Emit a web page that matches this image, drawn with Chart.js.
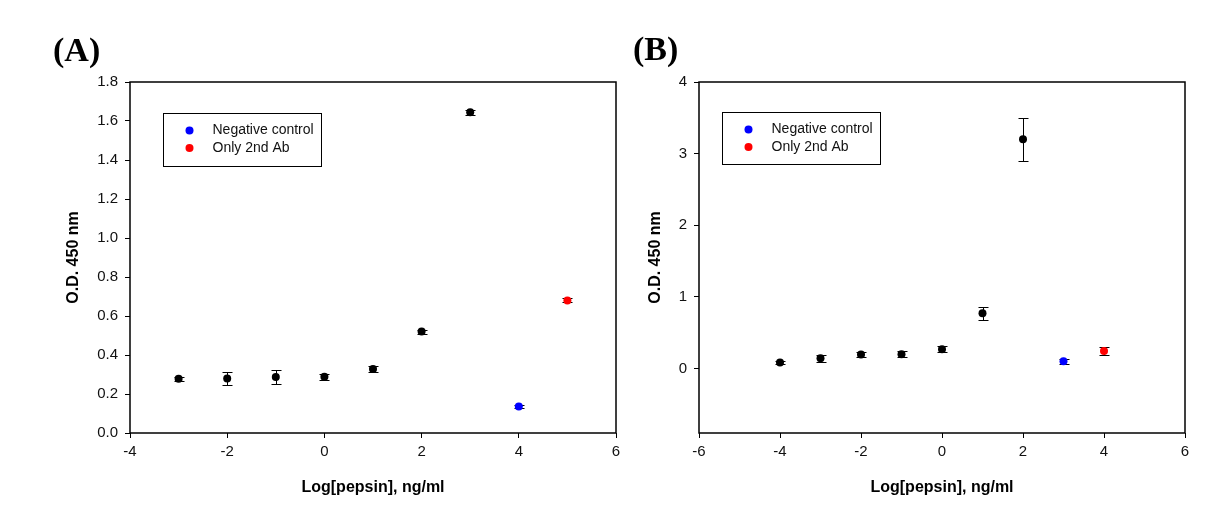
<!DOCTYPE html>
<html lang="en">
<head>
<meta charset="UTF-8">
<title>Pepsin ELISA</title>
<style>
  body { margin: 0; background: #fff; }
  .wrap { position: relative; width: 1232px; height: 529px; overflow: hidden; }
  .panel { position: absolute; top: 0; height: 529px; }
  #panelA { left: 0; width: 640px; }
  #panelB { left: 616px; width: 616px; }
  .tag { position: absolute; font: bold 34px "Liberation Serif", "Times New Roman", serif; line-height: 34px; color: #000; }
</style>
<script src="https://cdn.jsdelivr.net/npm/chart.js"></script>
</head>
<body>
<div class="wrap">
  <div class="panel" id="panelA"><canvas id="chartA"></canvas></div>
  <div class="panel" id="panelB"><canvas id="chartB"></canvas></div>
  <div class="tag" style="left:53px; top:33px;">(A)</div>
  <div class="tag" style="left:633px; top:32px;">(B)</div>
</div>
<script>
// ---- data ----
const xTicksA = [-4, -2, 0, 2, 4, 6];
const yTicksA = [0, 0.2, 0.4, 0.6, 0.8, 1.0, 1.2, 1.4, 1.6, 1.8];
const pepsinA = [-3, -2, -1, 0, 1, 2, 3];
const odA = [0.278, 0.280, 0.287, 0.288, 0.328, 0.520, 1.645];
const errA = [0.010, 0.032, 0.036, 0.015, 0.015, 0.010, 0.012];
const negXA = [4], negA = [0.136], negErrA = [0.010];
const secXA = [5], secA = [0.680], secErrA = [0.010];

const xTicksB = [-6, -4, -2, 0, 2, 4, 6];
const yTicksB = [0, 1, 2, 3, 4];
const pepsinB = [-4, -3, -2, -1, 0, 1, 2];
const odB = [0.085, 0.145, 0.195, 0.200, 0.270, 0.770, 3.200];
const errB = [0.020, 0.050, 0.030, 0.045, 0.045, 0.090, 0.300];
const negXB = [3], negB = [0.100], negErrB = [0.035];
const secXB = [4], secB = [0.245], secErrB = [0.060];

const legendLabels = ['Negative control', 'Only 2nd Ab'];

const pts = (xs, ys) => xs.map((x, i) => ({ x: x, y: ys[i] }));

function series(label, xs, ys, errs, color, inLegend) {
  return {
    label: label,
    data: pts(xs, ys),
    errors: errs,
    inLegend: inLegend,
    backgroundColor: color,
    borderColor: color,
    pointRadius: 4,
    pointBorderWidth: 0,
    showLine: false
  };
}

// error bars with caps
const errorBars = {
  id: 'errorBars',
  beforeDatasetsDraw(chart) {
    const { ctx, scales: { x, y } } = chart;
    ctx.save();
    ctx.lineWidth = 1;
    ctx.strokeStyle = '#000';
    chart.data.datasets.forEach(ds => {
      ds.data.forEach((p, i) => {
        const e = ds.errors[i];
        const px = Math.round(x.getPixelForValue(p.x)) + 0.5;
        const t = Math.round(y.getPixelForValue(p.y + e)) + 0.5;
        const b = Math.round(y.getPixelForValue(p.y - e)) + 0.5;
        ctx.beginPath();
        ctx.moveTo(px, t); ctx.lineTo(px, b);
        ctx.moveTo(px - 5, t); ctx.lineTo(px + 5, t);
        ctx.moveTo(px - 5, b); ctx.lineTo(px + 5, b);
        ctx.stroke();
      });
    });
    ctx.restore();
  }
};

// closed frame round the plot area
const frame = {
  id: 'frame',
  afterDraw(chart) {
    const { ctx, chartArea: a } = chart;
    ctx.save();
    ctx.lineWidth = 1.5;
    ctx.strokeStyle = '#000';
    ctx.strokeRect(a.left, a.top, a.right - a.left, a.bottom - a.top);
    ctx.restore();
  }
};

// boxed legend inside the plot
const boxLegend = {
  id: 'boxLegend',
  afterDraw(chart, args, opts) {
    const { ctx, chartArea } = chart;
    const x0 = Math.round(chartArea.left + opts.dx) + 0.5;
    const y0 = Math.round(chartArea.top + opts.dy) + 0.5;
    ctx.save();
    ctx.fillStyle = '#fff';
    ctx.fillRect(x0, y0, opts.w, opts.h);
    ctx.lineWidth = 1;
    ctx.strokeStyle = '#000';
    ctx.strokeRect(x0, y0, opts.w, opts.h);
    ctx.font = '14px "Liberation Sans", Arial, sans-serif';
    ctx.textBaseline = 'middle';
    chart.data.datasets.filter(d => d.inLegend).forEach((ds, i) => {
      const cy = y0 + 17 + i * 17.5;
      ctx.fillStyle = ds.backgroundColor;
      ctx.beginPath();
      ctx.arc(x0 + 26, cy, 4, 0, Math.PI * 2);
      ctx.fill();
      ctx.fillStyle = '#111';
      ctx.fillText(ds.label, x0 + 49, cy);
    });
    ctx.restore();
  }
};

const tickFont = { family: '"Liberation Sans", Arial, sans-serif', size: 15 };
const titleFont = { family: '"Liberation Sans", Arial, sans-serif', size: 16, weight: 'bold' };

function makeChart(id, cfg) {
  const el = document.getElementById(id);
  el.width = cfg.w; el.height = 529;
  return new Chart(el, {
    type: 'scatter',
    data: { datasets: cfg.datasets },
    plugins: [errorBars, frame, boxLegend],
    options: {
      responsive: false,
      animation: false,
      layout: { padding: { left: 0, top: 82, right: cfg.padRight, bottom: 0 } },
      plugins: {
        legend: { display: false },
        tooltip: { enabled: false },
        boxLegend: cfg.legend
      },
      scales: {
        x: {
          type: 'linear',
          min: cfg.xTicks[0],
          max: cfg.xTicks[cfg.xTicks.length - 1],
          afterBuildTicks: s => { s.ticks = cfg.xTicks.map(v => ({ value: v })); },
          afterFit: s => { s.height = 96; },
          grid: { display: true, drawOnChartArea: false, drawTicks: true, tickLength: 5, color: '#000' },
          border: { display: false },
          ticks: { font: tickFont, color: '#111', padding: 5, maxRotation: 0, callback: v => String(v) },
          title: { display: true, text: 'Log[pepsin], ng/ml', font: titleFont, color: '#000', padding: { top: 0, bottom: 32 } }
        },
        y: {
          type: 'linear',
          min: cfg.yMin,
          max: cfg.yTicks[cfg.yTicks.length - 1],
          afterBuildTicks: s => { s.ticks = cfg.yTicks.map(v => ({ value: v })); },
          afterFit: s => { s.width = cfg.yWidth; },
          grid: { display: true, drawOnChartArea: false, drawTicks: true, tickLength: 5, color: '#000' },
          border: { display: false },
          ticks: { font: tickFont, color: '#111', padding: 7, callback: cfg.yFmt },
          title: { display: true, text: 'O.D. 450 nm', font: titleFont, color: '#000', padding: { top: cfg.yTitlePad, bottom: 0 } }
        }
      }
    }
  });
}

makeChart('chartA', {
  w: 640, padRight: 24, yWidth: 130, yTitlePad: 63.5, yMin: 0,
  xTicks: xTicksA, yTicks: yTicksA, yFmt: v => v.toFixed(1),
  legend: { dx: 33, dy: 31, w: 158, h: 53 },
  datasets: [
    series('Standard', pepsinA, odA, errA, '#000', false),
    series(legendLabels[0], negXA, negA, negErrA, '#0000ff', true),
    series(legendLabels[1], secXA, secA, secErrA, '#ff0000', true)
  ]
});

makeChart('chartB', {
  w: 616, padRight: 47, yWidth: 83, yTitlePad: 29.5, yMin: -0.9,
  xTicks: xTicksB, yTicks: yTicksB, yFmt: v => String(v),
  legend: { dx: 23, dy: 30, w: 158, h: 52 },
  datasets: [
    series('Standard', pepsinB, odB, errB, '#000', false),
    series(legendLabels[0], negXB, negB, negErrB, '#0000ff', true),
    series(legendLabels[1], secXB, secB, secErrB, '#ff0000', true)
  ]
});
</script>
</body>
</html>
